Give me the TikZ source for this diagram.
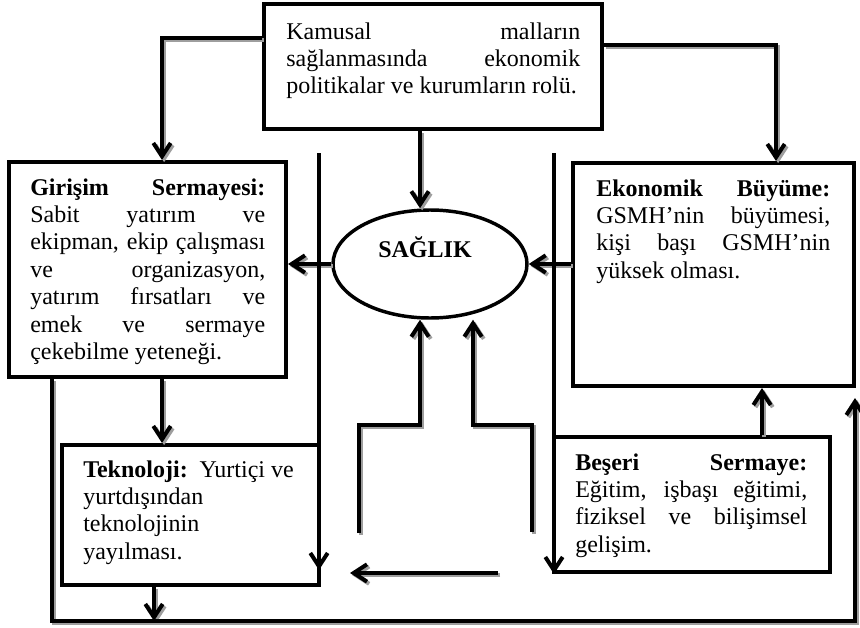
\documentclass[tikz,border=0pt]{standalone}
\usepackage{fontspec}
\setmainfont{Liberation Serif}
\usetikzlibrary{arrows.meta,shapes.geometric,fit}
\newcommand\jline[1]{\hbox to \hsize{#1}}
\newcommand\drawconns[1]{%
\begin{scope}[draw=#1, line width=3pt, conn/.style={-{Straight Barb[length=10pt,width=13pt,line width=3pt]}}]
 \draw[conn] (top.west |- 0,38) -- (162,38) -- (162,0 |- gir.north);
 \draw[conn] (top.east |- 0,45) -- (776,45) -- (776,0 |- eko.north);
 \draw[conn] (420,0 |- top.south) -- (420,0 |- sag.north);
 \draw[conn] (sag.west) -- (sag.west -| gir.east);
 \draw[conn] (sag.east -| eko.west) -- (sag.east);
 \draw[conn] (162,0 |- gir.south) -- (162,0 |- tek.north);
 \draw[conn] (52,0 |- gir.south) -- (52,621) -- (855,621) -- (ekr);
 \draw[conn] (154,0 |- tek.south) -- (154,621);
 \draw[conn] (762,0 |- bes.north) -- (762,0 |- eko.south);
 \draw[conn] (ml) -- (359,425) -- (420,425) -- (420,0 |- sag.south);
 \draw[conn, {Straight Barb[length=10pt,width=13pt,line width=3pt]}-] (473,0 |- sag.south) -- (473,425) -- (532,425) -- (mr);
 \draw[conn] (hb) -- (350,573);
\end{scope}}
\begin{document}
\begin{tikzpicture}[x=0.75pt,y=-0.75pt,
  box/.style={draw, line width=3pt, inner sep=0pt},
  txt/.style={inner sep=0pt, anchor=base west, font=\fontsize{18}{20.6}\selectfont},
  vline/.style={line width=3pt, -{Straight Barb[length=10pt,width=13pt,line width=3pt]}}]
\useasboundingbox[fill=white] (0,0) rectangle (860,628);
% boxes
\node[box, fit={(264,4) (602,129)}] (top) {};
\node[box, fit={(9,162) (286,377)}] (gir) {};
\node[box, fit={(573,163) (854,386)}] (eko) {};
\node[box, fit={(62,445) (319,585)}] (tek) {};
\node[box, fit={(554,437) (830,572)}] (bes) {};
\node[draw, ellipse, line width=2.6pt, minimum width=145.5pt, minimum height=81pt, inner sep=0pt] (sag) at (430,264) {};
% free ends
\coordinate (ekr) at (855,398);
\coordinate (ml) at (359,533);
\coordinate (mr) at (532,532);
\coordinate (hb) at (498,573);
\coordinate (v1) at (319,153);
\coordinate (v2) at (554,153);
% shadows
\begin{scope}[transform canvas={shift={(1.6pt,-1.6pt)}}]
\drawconns{black!38}
\end{scope}
\drawconns{black}
% vertical lines
\draw[vline] (v1) -- (v1 |- 0,570);
\draw[vline] (v2) -- (v2 |- bes.south);
% texts
\node[txt] (toptxt) at (286,39) {\vtop{\hsize=220.5pt
 \jline{Kamusal malların}
 \jline{sağlanmasında ekonomik}
 \hbox{politikalar ve kurumların rolü.}}};
\node[txt] (girtxt) at (30,195) {\vtop{\hsize=176.25pt
 \jline{\textbf{Girişim Sermayesi:}}
 \jline{Sabit yatırım ve}
 \jline{ekipman, ekip çalışması}
 \jline{ve organizasyon,}
 \jline{yatırım fırsatları ve}
 \jline{emek ve sermaye}
 \hbox{çekebilme yeteneği.}}};
\node[txt] (ekotxt) at (596,196) {\vtop{\hsize=175.5pt
 \jline{\textbf{Ekonomik Büyüme:}}
 \jline{GSMH’nin büyümesi,}
 \jline{kişi başı GSMH’nin}
 \hbox{yüksek olması.}}};
\node[txt] (tektxt) at (83,477) {\vtop{
 \hbox{\textbf{Teknoloji:}\hskip 0.5em Yurtiçi ve}
 \hbox{yurtdışından}
 \hbox{teknolojinin}
 \hbox{yayılması.}}};
\node[txt] (bestxt) at (575,470) {\vtop{\hsize=174pt
 \jline{\textbf{Beşeri Sermaye:}}
 \jline{Eğitim, işbaşı eğitimi,}
 \jline{fiziksel ve bilişimsel}
 \hbox{gelişim.}}};
\node[anchor=base, inner sep=0pt, font=\fontsize{18}{20}\selectfont\bfseries] (sagtxt) at (425,257) {SAĞLIK};
\end{tikzpicture}
\end{document}
